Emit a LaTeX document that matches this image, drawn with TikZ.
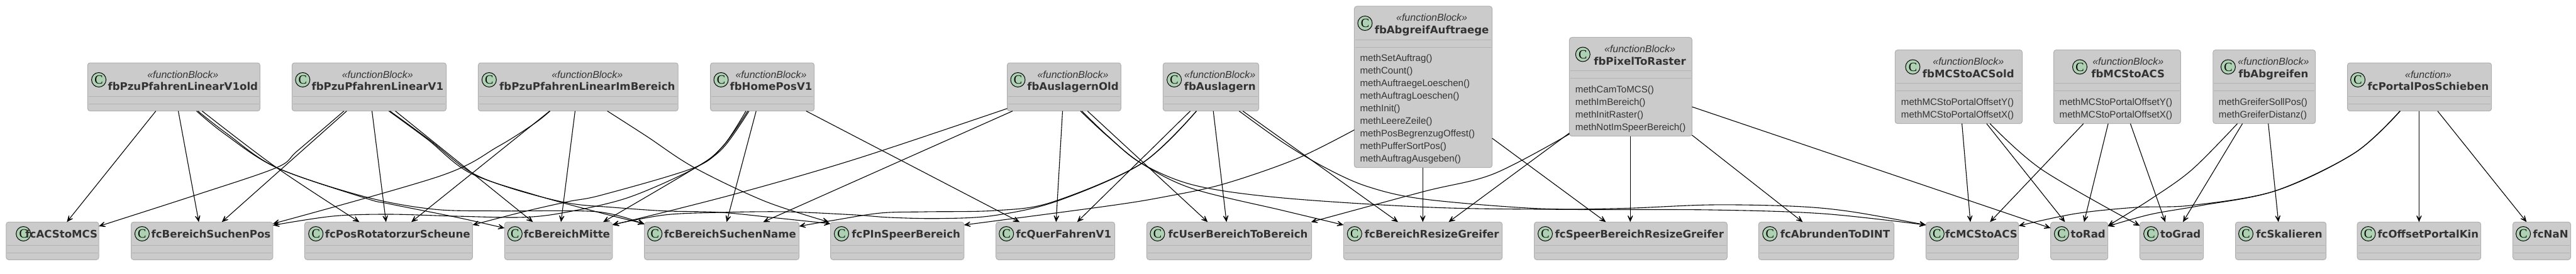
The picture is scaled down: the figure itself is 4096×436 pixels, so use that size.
\documentclass[tikz,border=0pt]{standalone}
\usepackage{fontspec}
\setmainfont{Liberation Sans}
\newfontfamily\ttlfont{DejaVu Sans}
\newfontfamily\spotfont{Liberation Serif}
\usetikzlibrary{arrows.meta}
\definecolor{boxfill}{HTML}{CBCBCB}
\definecolor{boxline}{HTML}{AFAFAF}
\definecolor{sepline}{HTML}{B2B2B2}
\definecolor{spotfill}{HTML}{ADD1B2}
\definecolor{txt}{HTML}{333333}
\tikzset{
  boxst/.style={draw=boxline,fill=boxfill,line width=1pt,rounded corners=4pt,inner sep=0pt,outer sep=0pt,anchor=north west},
  sepst/.style={draw=sepline,line width=1pt},
  spot/.style={circle,draw=black,fill=spotfill,line width=1pt,minimum size=23pt,inner sep=0pt,outer sep=0pt,font=\spotfont\fontsize{20}{20}\selectfont,text=black},
  ttl/.style={anchor=base,inner sep=0pt,text=txt,font=\ttlfont\bfseries\fontsize{16.6}{16.6}\selectfont},
  ster/.style={anchor=base,inner sep=0pt,text=txt,font=\itshape\fontsize{16}{16}\selectfont},
  meth/.style={anchor=base west,inner sep=0pt,text=txt,font=\fontsize{15.1}{15.1}\selectfont},
  conn/.style={draw=black,line width=1.1pt,-{Stealth[length=15pt,width=13pt,inset=9.5pt]}},
  sm/.style={smooth,tension=.55},
}
% id, x1, x2, circle x, title x, title
\newcommand{\fcnode}[6]{%
  \pgfmathsetmacro{\bw}{#3-#2}
  \node[boxst,minimum width=\bw pt,minimum height=60pt] (#1) at (#2,353.3) {};
  \draw[sepst] (#2+1.5,390.3) -- (#3-1.5,390.3) (#2+1.5,402.3) -- (#3-1.5,402.3);
  \node[spot] (#1c) at (#4,372) {C};
  \node[ttl] (#1t) at (#5,378.3) {#6};
}
% id, x1, x2, ytop, ybot, circle x, title x, stereotype, title
\newcommand{\fbnode}[9]{%
  \pgfmathsetmacro{\bw}{#3-#2}
  \pgfmathsetmacro{\bh}{#5-#4}
  \pgfmathsetmacro{\lya}{#4+53.3}
  \pgfmathsetmacro{\lyb}{#4+65.3}
  \pgfmathsetmacro{\cya}{#4+27}
  \pgfmathsetmacro{\tya}{#4+43.8}
  \pgfmathsetmacro{\sya}{#4+24}
  \node[boxst,minimum width=\bw pt,minimum height=\bh pt] (#1) at (#2,#4) {};
  \draw[sepst] (#2+1.5,\lya) -- (#3-1.5,\lya) (#2+1.5,\lyb) -- (#3-1.5,\lyb);
  \node[spot] (#1c) at (#6,\cya) {C};
  \node[ster] (#1s) at (#7,\sya) {«#8»};
  \node[ttl] (#1t) at (#7,\tya) {#9};
}
\begin{document}
\begin{tikzpicture}[x=1pt,y=-1pt]
\useasboundingbox (0,0) rectangle (4096,436);
% top row
\fbnode{A}{139.3}{413.4}{100}{176.7}{157.1}{290.8}{functionBlock}{fbPzuPfahrenLinearV1old}
\fbnode{B}{464.3}{709.5}{100}{176.7}{481.3}{600.3}{functionBlock}{fbPzuPfahrenLinearV1}
\fbnode{C}{760.4}{1078.2}{100}{176.7}{777.8}{933.8}{functionBlock}{fbPzuPfahrenLinearImBereich}
\fbnode{D}{1129.6}{1294.7}{100}{176.7}{1146.5}{1226}{functionBlock}{fbHomePosV1}
\fbnode{E}{1601.5}{1782.3}{100}{176.7}{1618.5}{1706}{functionBlock}{fbAuslagernOld}
\fbnode{F}{1849.3}{2001.5}{100}{176.7}{1867.1}{1939.7}{functionBlock}{fbAuslagern}
\fbnode{G}{2153.4}{2372.6}{10}{266.7}{2170.4}{2276.6}{functionBlock}{fbAbgreifAuftraege}
\fbnode{H}{2495.4}{2690.4}{59.5}{216.7}{2516.8}{2607.5}{functionBlock}{fbPixelToRaster}
\fbnode{I}{3013.3}{3215.5}{79.5}{196.7}{3041.4}{3129.8}{functionBlock}{fbMCStoACSold}
\fbnode{J}{3265.5}{3467.4}{79.5}{196.7}{3307}{3383.7}{functionBlock}{fbMCStoACS}
\fbnode{K}{3518.8}{3681.7}{79.5}{196.7}{3542.9}{3614.9}{functionBlock}{fbAbgreifen}
\fbnode{L}{3732.6}{3961.6}{100}{176.7}{3749.1}{3861}{function}{fcPortalPosSchieben}
% methods
\node[meth] (Gm1) at (2162.3,97.5) {methSetAuftrag()};
\node[meth] (Gm2) at (2162.3,117.5) {methCount()};
\node[meth] (Gm3) at (2162.3,137.5) {methAuftraegeLoeschen()};
\node[meth] (Gm4) at (2162.3,157.5) {methAuftragLoeschen()};
\node[meth] (Gm5) at (2162.3,177.5) {methInit()};
\node[meth] (Gm6) at (2162.3,197.5) {methLeereZeile()};
\node[meth] (Gm7) at (2162.3,217.5) {methPosBegrenzugOffest()};
\node[meth] (Gm8) at (2162.3,237.5) {methPufferSortPos()};
\node[meth] (Gm9) at (2162.3,257.5) {methAuftragAusgeben()};
\node[meth] (Hm1) at (2504.7,147.5) {methCamToMCS()};
\node[meth] (Hm2) at (2504.7,167.5) {methImBereich()};
\node[meth] (Hm3) at (2504.7,187.5) {methInitRaster()};
\node[meth] (Hm4) at (2504.7,207.5) {methNotImSpeerBereich()};
\node[meth] (Im1) at (3022.7,167.5) {methMCStoPortalOffsetY()};
\node[meth] (Im2) at (3022.7,187.5) {methMCStoPortalOffsetX()};
\node[meth] (Jm1) at (3274.5,167.5) {methMCStoPortalOffsetY()};
\node[meth] (Jm2) at (3274.5,187.5) {methMCStoPortalOffsetX()};
\node[meth] (Km1) at (3527.7,167.5) {methGreiferSollPos()};
\node[meth] (Km2) at (3527.7,187.5) {methGreiferDistanz()};
% bottom row
\fcnode{a}{9.8}{157.1}{37.2}{97.8}{fcACStoMCS}
\fcnode{b}{208.5}{433.9}{225.9}{335.5}{fcBereichSuchenPos}
\fcnode{c}{484.4}{751.4}{502.2}{632.2}{fcPosRotatorzurScheune}
\fcnode{d}{802.3}{973.8}{818.8}{901.4}{fcBereichMitte}
\fcnode{e}{1024.6}{1270.6}{1041.2}{1161}{fcBereichSuchenName}
\fcnode{f}{1320.6}{1532.8}{1338}{1440.7}{fcPInSpeerBereich}
\fcnode{g}{1583.7}{1772.5}{1600.2}{1691.3}{fcQuerFahrenV1}
\fcnode{h}{1823.4}{2085.5}{1840.4}{1968.5}{fcUserBereichToBereich}
\fcnode{i}{2136.4}{2388.7}{2153.8}{2276.8}{fcBereichResizeGreifer}
\fcnode{j}{2439.5}{2746.3}{2457}{2606.8}{fcSpeerBereichResizeGreifer}
\fcnode{k}{2796.3}{3011.5}{2814.2}{2918}{fcAbrundenToDINT}
\fcnode{l}{3062.4}{3209.7}{3079.8}{3150.4}{fcMCStoACS}
\fcnode{m}{3260.6}{3351.7}{3278}{3320.2}{toRad}
\fcnode{n}{3402.4}{3503.6}{3420.1}{3467.2}{toGrad}
\fcnode{o}{3554.5}{3698.7}{3571}{3640}{fcSkalieren}
\fcnode{p}{3748.2}{3944.7}{3765.6}{3860.8}{fcOffsetPortalKin}
\fcnode{q}{3995.6}{4087.5}{4012.1}{4055.6}{fcNaN}
% connectors: A
\draw[conn] (247.8,0 |- A.south) -- (106.3,0 |- a.north);
\draw[conn] (283.5,0 |- A.south) -- (316.1,0 |- b.north);
\draw[conn] plot[sm] coordinates {(321.4,0 |- A.south) (439.7,266.7) (571.4,0 |- c.north)};
\draw[conn] plot[sm] coordinates {(312.5,0 |- A.south) (357,213) (439.7,266.7) (580,315) (618.6,324.3) (725.7,345.7) (d.west |- 0,363)};
\draw[conn] plot[sm] coordinates {(314.7,0 |- A.south) (360,212) (440,266.7) (580,313) (690,333) (797,335.7) (950,337) (e.west |- 0,357)};
% B
\draw[conn] (551.3,0 |- B.south) -- (352.7,0 |- b.north);
\draw[conn] plot[sm] coordinates {(546.9,0 |- B.south) (473,240) (439.7,266.7) (312.5,310) (a.east |- 0,360)};
\draw[conn] (591.5,0 |- B.south) -- (613.8,0 |- c.north);
\draw[conn] (628.6,0 |- B.south) -- (847.4,0 |- d.north);
\draw[conn] plot[sm] coordinates {(618.3,0 |- B.south) (680,222) (747,275) (850,310) (960,340) (e.west |- 0,356)};
\draw[conn] plot[sm] coordinates {(620,0 |- B.south) (682,222) (747,273) (814,300) (903,323) (975,330) (1057,335.7) (1146,338) (1236,347) (f.west |- 0,356)};
% C
\draw[conn] plot[sm] coordinates {(874.6,0 |- C.south) (849.6,196.7) (791.6,233.3) (700,280) (b.east |- 0,356)};
\draw[conn] (874.1,0 |- C.south) -- (654,0 |- c.north);
\draw[conn] (914.4,0 |- C.south) -- (892,0 |- d.north);
\draw[conn] plot[sm] coordinates {(965.7,0 |- C.south) (1028,216.7) (1104,266.7) (1215.7,320) (1318,0 |- f.north)};
% D
\draw[conn] plot[sm] coordinates {(1188.9,0 |- D.south) (1150,232) (1104,266.7) (958,310) (904,320.7) (833,336.8) (c.east |- 0,358)};
\draw[conn] plot[sm] coordinates {(1186,0 |- D.south) (1150,232) (1104,268) (1000,314) (904,337) (833,345.7) (725,344) (618,341) (529,344) (b.east |- 0,358.5)};
\draw[conn] plot[sm] coordinates {(1191,0 |- D.south) (1150,235) (1104,268) (959,0 |- d.north)};
\draw[conn] (1202.3,0 |- D.south) -- (1155.4,0 |- e.north);
\draw[conn] (1281.8,0 |- D.south) -- (1621.2,0 |- g.north);
% E
\draw[conn] plot[sm] coordinates {(E.west |- 0,172.7) (1360,253.3) (1164,310) (d.east |- 0,358)};
\draw[conn] (1610,0 |- E.south) -- (1213.5,0 |- e.north);
\draw[conn] (1689.5,0 |- E.south) -- (1679.2,0 |- g.north);
\draw[conn] (1729.2,0 |- E.south) -- (1920.3,0 |- h.north);
\draw[conn] plot[sm] coordinates {(1718,0 |- E.south) (1761,216.7) (1815,260) (1895.7,300) (2040,335) (i.west |- 0,358)};
\draw[conn] plot[sm] coordinates {(1720.3,0 |- E.south) (1761.8,216.7) (1815,260) (1900,295) (2040,315) (2276.6,330) (2486.4,333.3) (2720,334) (2898.6,340) (l.west |- 0,358)};
% F
\draw[conn] (1892.6,0 |- F.south) -- (1712.7,0 |- g.north);
\draw[conn] plot[sm] coordinates {(1902.4,0 |- F.south) (1815.4,260) (1672.5,321.7) (1583,335) (1472,337) (1400,339) (1323,351) (e.east |- 0,360)};
\draw[conn] plot[sm] coordinates {(1902.4,0 |- F.south) (1815.4,260) (1681,320) (1580,343) (1494,347.7) (1414,346) (1360,342) (1250,337) (1146,338) (1057,342) (d.east |- 0,357.5)};
\draw[conn] (1929.2,0 |- F.south) -- (1950.2,0 |- h.north);
\draw[conn] (1976.1,0 |- F.south) -- (2223,0 |- i.north);
\draw[conn] plot[sm] coordinates {(1970.3,0 |- F.south) (2040,226.7) (2107,266.7) (2174,296.7) (2263,316.7) (2442,331.7) (2576,331.7) (2720,326) (2854,328.3) (2943,336.7) (l.west |- 0,358)};
% G
\draw[conn] plot[sm] coordinates {(G.west |- 0,206.7) (2060,253.3) (1945,293) (1851,313.3) (1760,328) (f.east |- 0,358)};
\draw[conn] (2262.3,0 |- G.south) -- (2262.3,0 |- i.north);
\draw[conn] (G.east |- 0,220) -- (2553.4,0 |- j.north);
% H
\draw[conn] (H.west |- 0,211.7) -- (2303.4,0 |- i.north);
\draw[conn] plot[sm] coordinates {(H.west |- 0,213.3) (2374.8,276.7) (2263,305) (2084.6,0 |- h.north)};
\draw[conn] (2592.2,0 |- H.south) -- (2592.2,0 |- j.north);
\draw[conn] (H.east |- 0,215) -- (2866.4,0 |- k.north);
\draw[conn] (H.east |- 0,170) -- (m.west |- 0,363);
% I
\draw[conn] (3119.6,0 |- I.south) -- (3133,0 |- l.north);
\draw[conn] (3158.8,0 |- I.south) -- (3283.4,0 |- m.north);
\draw[conn] plot[sm] coordinates {(3164.2,0 |- I.south) (3246.8,270) (n.west |- 0,359.3)};
% J
\draw[conn] (3312.9,0 |- J.south) -- (3164.2,0 |- l.north);
\draw[conn] (3352.1,0 |- J.south) -- (3313.8,0 |- m.north);
\draw[conn] (3387.4,0 |- J.south) -- (3442.9,0 |- n.north);
% K
\draw[conn] plot[sm] coordinates {(3557.6,0 |- K.south) (3485.3,270) (3420,316.7) (m.east |- 0,359.3)};
\draw[conn] (3565.6,0 |- K.south) -- (3471,0 |- n.north);
\draw[conn] (3606.7,0 |- K.south) -- (3622.8,0 |- o.north);
% L
\draw[conn] plot[sm] coordinates {(3816.5,0 |- L.south) (3744.2,243.3) (3619.2,303.3) (3485.3,326.7) (3396,330) (3300,340) (l.east |- 0,359.3)};
\draw[conn] plot[sm] coordinates {(3816,0 |- L.south) (3744,243.3) (3619,303.3) (3500,327) (3420,341) (m.east |- 0,360)};
\draw[conn] (3846.4,0 |- L.south) -- (3846.4,0 |- p.north);
\draw[conn] (3875.9,0 |- L.south) -- (4017.4,0 |- q.north);
\end{tikzpicture}
\end{document}
